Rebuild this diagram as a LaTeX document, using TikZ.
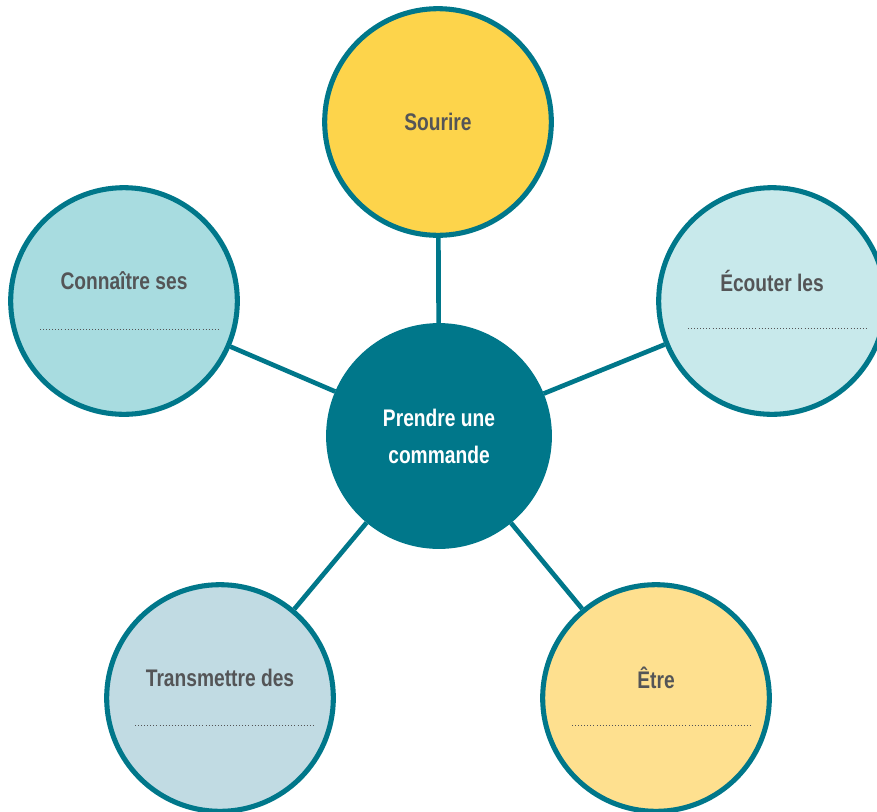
\documentclass[tikz,border=0pt]{standalone}
\usepackage{fontspec}
\setmainfont{Liberation Sans}[FakeStretch=0.8]
\usepackage{tikz}

\definecolor{teal}{HTML}{00778A}
\definecolor{textgray}{HTML}{545557}
\definecolor{yellowA}{HTML}{FDD44B}
\definecolor{yellowB}{HTML}{FEE08F}
\definecolor{blueA}{HTML}{A8DCE0}
\definecolor{blueB}{HTML}{C8E9EB}
\definecolor{blueC}{HTML}{C1DBE3}

\tikzset{
  bubble/.style={circle,draw=teal,line width=3.8pt,minimum size=170pt,inner sep=0pt},
  hub/.style={circle,fill=teal,draw=teal,line width=3.4pt,minimum size=166pt,inner sep=0pt,
    text=white,align=center,font=\bfseries\fontsize{18}{27.75}\selectfont},
  caption/.style={text=textgray,font=\bfseries\fontsize{18}{22}\selectfont,inner sep=0pt},
  link/.style={draw=teal,line width=3.5pt},
  dotline/.style={draw=textgray,line width=0.7pt,dash pattern=on 0.7pt off 1.6pt}
}

\begin{document}
\begin{tikzpicture}[x=0.75pt,y=-0.75pt]
	\useasboundingbox (0,0) rectangle (877,811);

	\node[hub] (central) at (439,436) {Prendre une\\commande};

	\node[bubble,fill=yellowA] (sourire) at (438,122) {};
	\node[bubble,fill=blueB] (ecouter) at (772,301) {};
	\node[bubble,fill=yellowB] (etre) at (656,698) {};
	\node[bubble,fill=blueC] (transmettre) at (220,698) {};
	\node[bubble,fill=blueA] (connaitre) at (124,301) {};

	\draw[link] (central) -- (sourire);
	\draw[link] (central) -- (ecouter);
	\draw[link] (central) -- (etre);
	\draw[link] (central) -- (transmettre);
	\draw[link] (central) -- (connaitre);

	\node[caption] (sourire-t) at (sourire.center) {Sourire};
	\node[caption] (ecouter-t) at ([yshift=15pt]ecouter.center) {Écouter les};
	\node[caption] (etre-t) at ([yshift=15pt]etre.center) {Être};
	\node[caption] (transmettre-t) at ([yshift=15pt]transmettre.center) {Transmettre des};
	\node[caption] (connaitre-t) at ([yshift=15pt]connaitre.center) {Connaître ses};

	% lignes pointillees a remplir
	\draw[dotline] ([shift={(-84,27)}]ecouter.center) -- ++(180,0);
	\draw[dotline] ([shift={(-84,27)}]etre.center) -- ++(178,0);
	\draw[dotline] ([shift={(-85,27)}]transmettre.center) -- ++(180,0);
	\draw[dotline] ([shift={(-84,28)}]connaitre.center) -- ++(180,0);
\end{tikzpicture}
\end{document}
